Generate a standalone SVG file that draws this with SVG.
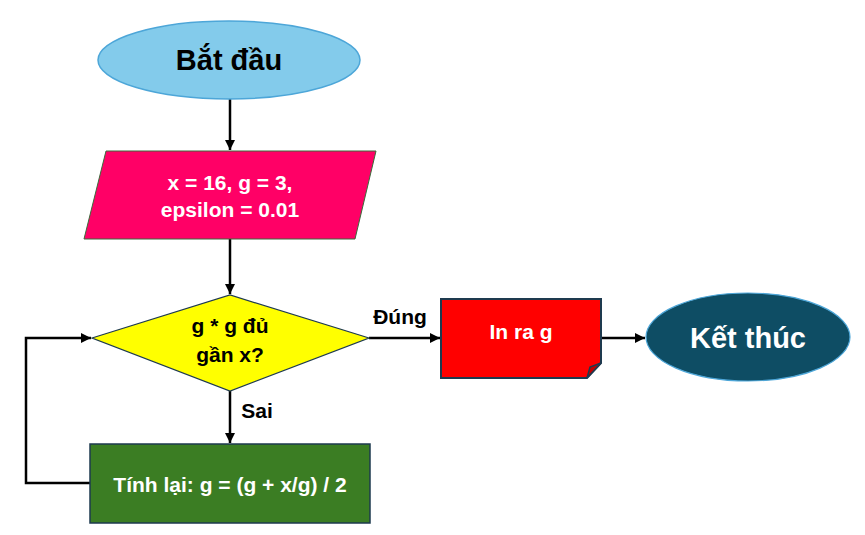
<svg xmlns="http://www.w3.org/2000/svg" width="865" height="535" viewBox="0 0 865 535">
<defs>
<marker id="arr" viewBox="0 0 10 10" refX="10" refY="5" markerWidth="4" markerHeight="4" orient="auto" markerUnits="strokeWidth">
<path d="M0,0 L10,5 L0,10 Z" fill="#000"/>
</marker>
<style>
text{font-family:"Liberation Sans",Arial,sans-serif;font-weight:bold;text-anchor:middle}
.w{fill:#fff;font-size:21px}
.k{fill:#000;font-size:21px}
.c{fill:none;stroke:#000;stroke-width:2.5}
</style>
</defs>
<rect width="865" height="535" fill="#fff"/>
<g id="connectors">
<line class="c" x1="230" y1="99" x2="230" y2="150" marker-end="url(#arr)"/>
<line class="c" x1="230" y1="239" x2="230" y2="294" marker-end="url(#arr)"/>
<line class="c" x1="230" y1="391" x2="230" y2="443" marker-end="url(#arr)"/>
<polyline class="c" points="90,483 26,483 26,338 91,338" marker-end="url(#arr)"/>
<line class="c" x1="369" y1="338" x2="440" y2="338" marker-end="url(#arr)"/>
<line class="c" x1="601" y1="338" x2="645" y2="338" marker-end="url(#arr)"/>
<text class="k" x="257" y="418">Sai</text>
<text class="k" x="400" y="324">Đúng</text>
</g>
<g id="start">
<ellipse cx="229" cy="60" rx="131" ry="39" fill="#83CBEB" stroke="#4DA6D8" stroke-width="1.5"/>
<text x="229" y="70" font-size="29" fill="#000">Bắt đầu</text>
</g>
<g id="input">
<polygon points="106,151 376,151 355,239 84,239" fill="#FF0066" stroke="#3A6B3A" stroke-width="1"/>
<text class="w" x="230" y="190">x = 16, g = 3,</text>
<text class="w" x="230" y="217">epsilon = 0.01</text>
</g>
<g id="decision">
<polygon points="92,338 230,295 369,338 230,391" fill="#FFFF00" stroke="#1E3A4F" stroke-width="1.2"/>
<text class="k" x="230" y="333">g * g đủ</text>
<text class="k" x="230" y="362">gần x?</text>
</g>
<g id="compute">
<rect x="90" y="444" width="280" height="79" fill="#3B7D23" stroke="#1E3A4F" stroke-width="1.5"/>
<text class="w" x="230" y="492">Tính lại: g = (g + x/g) / 2</text>
</g>
<g id="output">
<path d="M441,299 H601 V363 L587,378 H441 Z" fill="#FF0000" stroke="#1E3A4F" stroke-width="2"/>
<path d="M601,363 L590,367 L587,378 Z" fill="#C00000" stroke="#1E3A4F" stroke-width="1.5"/>
<text class="w" x="521" y="339">In ra g</text>
</g>
<g id="end">
<ellipse cx="748" cy="337" rx="102" ry="44" fill="#0E4D64" stroke="#4DA6D8" stroke-width="1.2"/>
<text x="748" y="348" font-size="29" fill="#fff">Kết thúc</text>
</g>
</svg>
